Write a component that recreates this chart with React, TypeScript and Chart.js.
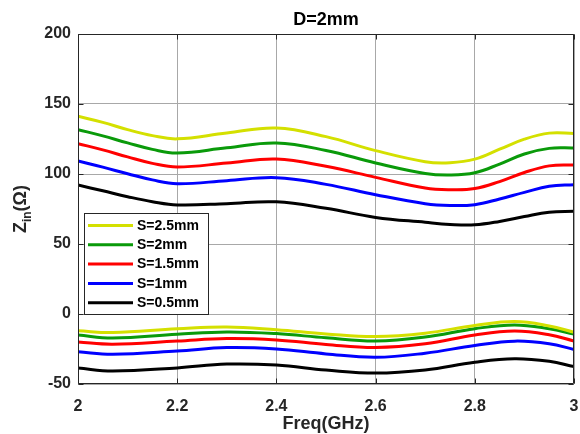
import React, { useEffect, useRef } from "react";
import { Chart, registerables } from "chart.js";

Chart.register(...registerables);

// ---- data ----
const upperFreq = [2.0, 2.05, 2.1, 2.15, 2.2, 2.3, 2.4, 2.5, 2.6, 2.7, 2.75, 2.8, 2.85, 2.9, 2.95, 3.0];
const lowerFreq = [2.0, 2.07, 2.2, 2.3, 2.4, 2.5, 2.6, 2.7, 2.8, 2.88, 2.95, 3.0];

const s25Upper = [141.2, 136.9, 131.7, 127.4, 125.1, 129.3, 132.8, 126.7, 116.7, 108.8, 108.1, 110.6, 117.7, 124.9, 129.2, 129.0];
const s20Upper = [131.7, 127.2, 122.2, 117.6, 115.0, 118.7, 122.1, 116.8, 107.9, 100.4, 99.3, 100.9, 107.1, 114.3, 118.3, 118.6];
const s15Upper = [121.7, 117.2, 112.2, 107.6, 105.0, 107.8, 110.7, 105.5, 97.6, 90.0, 88.8, 89.6, 94.6, 101.1, 105.8, 106.5];
const s10Upper = [109.3, 104.9, 100.2, 95.8, 93.1, 95.2, 97.4, 92.6, 85.2, 78.8, 77.5, 78.1, 82.2, 86.9, 91.2, 92.4];
const s05Upper = [92.1, 88.0, 83.8, 80.2, 77.9, 78.8, 80.1, 75.5, 69.0, 65.5, 64.0, 63.7, 66.1, 69.6, 72.7, 73.4];

const s25Lower = [-12.0, -13.2, -10.6, -9.3, -11.3, -14.2, -16.1, -13.7, -8.2, -5.4, -8.5, -13.0];
const s20Lower = [-15.0, -17.2, -14.5, -12.8, -14.0, -17.0, -19.3, -16.5, -10.5, -7.8, -10.5, -14.3];
const s15Lower = [-20.0, -21.6, -19.3, -17.5, -18.5, -21.7, -23.9, -21.3, -15.0, -12.2, -14.8, -19.3];
const s10Lower = [-27.0, -28.8, -26.5, -24.0, -25.0, -28.5, -30.9, -28.0, -22.5, -19.4, -21.2, -25.3];
const s05Lower = [-38.6, -40.7, -38.5, -35.8, -36.5, -40.0, -42.2, -40.0, -34.5, -32.0, -33.8, -37.6];

const seriesLabels = ["S=2.5mm", "S=2mm", "S=1.5mm", "S=1mm", "S=0.5mm"];
const seriesColors = ["#d4e000", "#0a9a0a", "#ff0000", "#0000ff", "#000000"];
const upperSets = [s25Upper, s20Upper, s15Upper, s10Upper, s05Upper];
const lowerSets = [s25Lower, s20Lower, s15Lower, s10Lower, s05Lower];

const xTickMin = 2;
const xTickMax = 3;
const xTickStep = 0.2;
const yTickMin = -50;
const yTickMax = 200;
const yTickStep = 50;

const titleText = "D=2mm";
const xTitleText = "Freq(GHz)";

const FONT = "'Liberation Sans', Arial, Helvetica, sans-serif";
const AXIS_DARK = "#262626";

const decorPlugin = {
  id: "decor",
  afterDatasetsDraw(chart: any) {
    const { ctx, chartArea } = chart;
    const { left, right, top, bottom } = chartArea;
    const L = Math.round(left) + 0.5;
    const R = Math.round(right) - 0.5;
    const T = Math.round(top) + 0.5;
    const B = Math.round(bottom) - 0.5;
    ctx.save();
    ctx.strokeStyle = AXIS_DARK;
    ctx.lineWidth = 1;
    ctx.beginPath();
    ctx.rect(L, T, R - L, B - T);
    ctx.stroke();
    const tl = 5;
    ctx.beginPath();
    chart.scales.y.ticks.forEach((t: any) => {
      const p = Math.round(chart.scales.y.getPixelForValue(t.value)) + 0.5;
      ctx.moveTo(L, p);
      ctx.lineTo(L + tl, p);
      ctx.moveTo(R, p);
      ctx.lineTo(R - tl, p);
    });
    chart.scales.x.ticks.forEach((t: any) => {
      const p = Math.round(chart.scales.x.getPixelForValue(t.value)) + 0.5;
      ctx.moveTo(p, T);
      ctx.lineTo(p, T + tl);
      ctx.moveTo(p, B);
      ctx.lineTo(p, B - tl);
    });
    ctx.stroke();

    // legend
    const bx = 84.5, by = 213.5, bw = 124, bh = 101;
    ctx.fillStyle = "#ffffff";
    ctx.fillRect(bx, by, bw, bh);
    ctx.strokeStyle = AXIS_DARK;
    ctx.strokeRect(bx, by, bw, bh);
    const rowY0 = 225.5;
    const rowStep = 19.3;
    ctx.font = `bold 14px ${FONT}`;
    ctx.textBaseline = "middle";
    ctx.textAlign = "left";
    seriesLabels.forEach((lab, i) => {
      const y = rowY0 + i * rowStep;
      ctx.strokeStyle = seriesColors[i];
      ctx.lineWidth = 3;
      ctx.beginPath();
      ctx.moveTo(88, y);
      ctx.lineTo(133, y);
      ctx.stroke();
      ctx.fillStyle = "#000000";
      ctx.fillText(lab, 137, y + 0.5);
    });
    ctx.restore();
  },
  afterDraw(chart: any) {
    const { ctx, chartArea } = chart;
    const { left, right, top, bottom } = chartArea;
    const cx = (left + right) / 2;
    ctx.save();
    ctx.fillStyle = "#000000";
    ctx.textAlign = "center";
    ctx.textBaseline = "middle";
    ctx.font = `bold 18px ${FONT}`;
    ctx.fillText(titleText, cx, 20);
    ctx.fillStyle = AXIS_DARK;
    ctx.font = `bold 18px ${FONT}`;
    ctx.fillText(xTitleText, cx, 424);
    const cy = (top + bottom) / 2;
    ctx.translate(26, cy);
    ctx.rotate(-Math.PI / 2);
    ctx.textAlign = "left";
    ctx.textBaseline = "alphabetic";
    const bigFont = `bold 18px ${FONT}`;
    const smallFont = `bold 12px ${FONT}`;
    ctx.font = bigFont;
    const wZ = ctx.measureText("Z").width;
    const wP = ctx.measureText("(\u03A9)").width;
    ctx.font = smallFont;
    const wIn = ctx.measureText("in").width;
    const total = wZ + wIn + wP;
    let x0 = -total / 2;
    ctx.font = bigFont;
    ctx.fillText("Z", x0, 0);
    x0 += wZ;
    ctx.font = smallFont;
    ctx.fillText("in", x0, 5);
    x0 += wIn;
    ctx.font = bigFont;
    ctx.fillText("(\u03A9)", x0, 0);
    ctx.restore();
  },
};

export default function App() {
  const ref = useRef<HTMLCanvasElement | null>(null);

  useEffect(() => {
    document.body.style.margin = "0";
    const canvas = ref.current;
    if (!canvas) return;

    const datasets: any[] = [];
    seriesLabels.forEach((lab, i) => {
      [upperFreq, lowerFreq].forEach((freq, g) => {
        const vals = g === 0 ? upperSets[i] : lowerSets[i];
        datasets.push({
          label: lab,
          data: freq.map((x, k) => ({ x, y: vals[k] })),
          borderColor: seriesColors[i],
          backgroundColor: seriesColors[i],
          borderWidth: 3,
          pointRadius: 0,
          tension: 0.4,
          fill: false,
        });
      });
    });

    const chart = new Chart(canvas, {
      type: "line",
      data: { datasets },
      plugins: [decorPlugin],
      options: {
        responsive: false,
        animation: false,
        devicePixelRatio: 1,
        layout: { padding: { top: 34, right: 6, left: 0, bottom: 0 } },
        plugins: {
          legend: { display: false },
          title: { display: false },
          tooltip: { enabled: false },
        },
        scales: {
          x: {
            type: "linear",
            min: xTickMin,
            max: xTickMax,
            afterFit: (s: any) => {
              s.height = 50;
              s.paddingLeft = 0;
              s.paddingRight = 0;
            },
            ticks: {
              stepSize: xTickStep,
              padding: 13,
              color: AXIS_DARK,
              font: { family: FONT, size: 16, weight: "bold" },
              callback: (v: any) => String(Math.round(Number(v) * 10) / 10),
              maxRotation: 0,
            },
            grid: { color: "#a8a8a8", lineWidth: 1, drawTicks: false },
            border: { display: false },
          },
          y: {
            type: "linear",
            min: yTickMin,
            max: yTickMax,
            afterFit: (s: any) => {
              s.width = 78;
              s.paddingTop = 0;
              s.paddingBottom = 0;
            },
            ticks: {
              stepSize: yTickStep,
              padding: 7,
              color: AXIS_DARK,
              font: { family: FONT, size: 16, weight: "bold" },
            },
            grid: { color: "#a8a8a8", lineWidth: 1, drawTicks: false },
            border: { display: false },
          },
        },
      } as any,
    });
    return () => chart.destroy();
  }, []);

  return (
    <div style={{ width: 580, height: 434, background: "#ffffff" }}>
      <canvas ref={ref} width={580} height={434} style={{ display: "block" }} />
    </div>
  );
}
